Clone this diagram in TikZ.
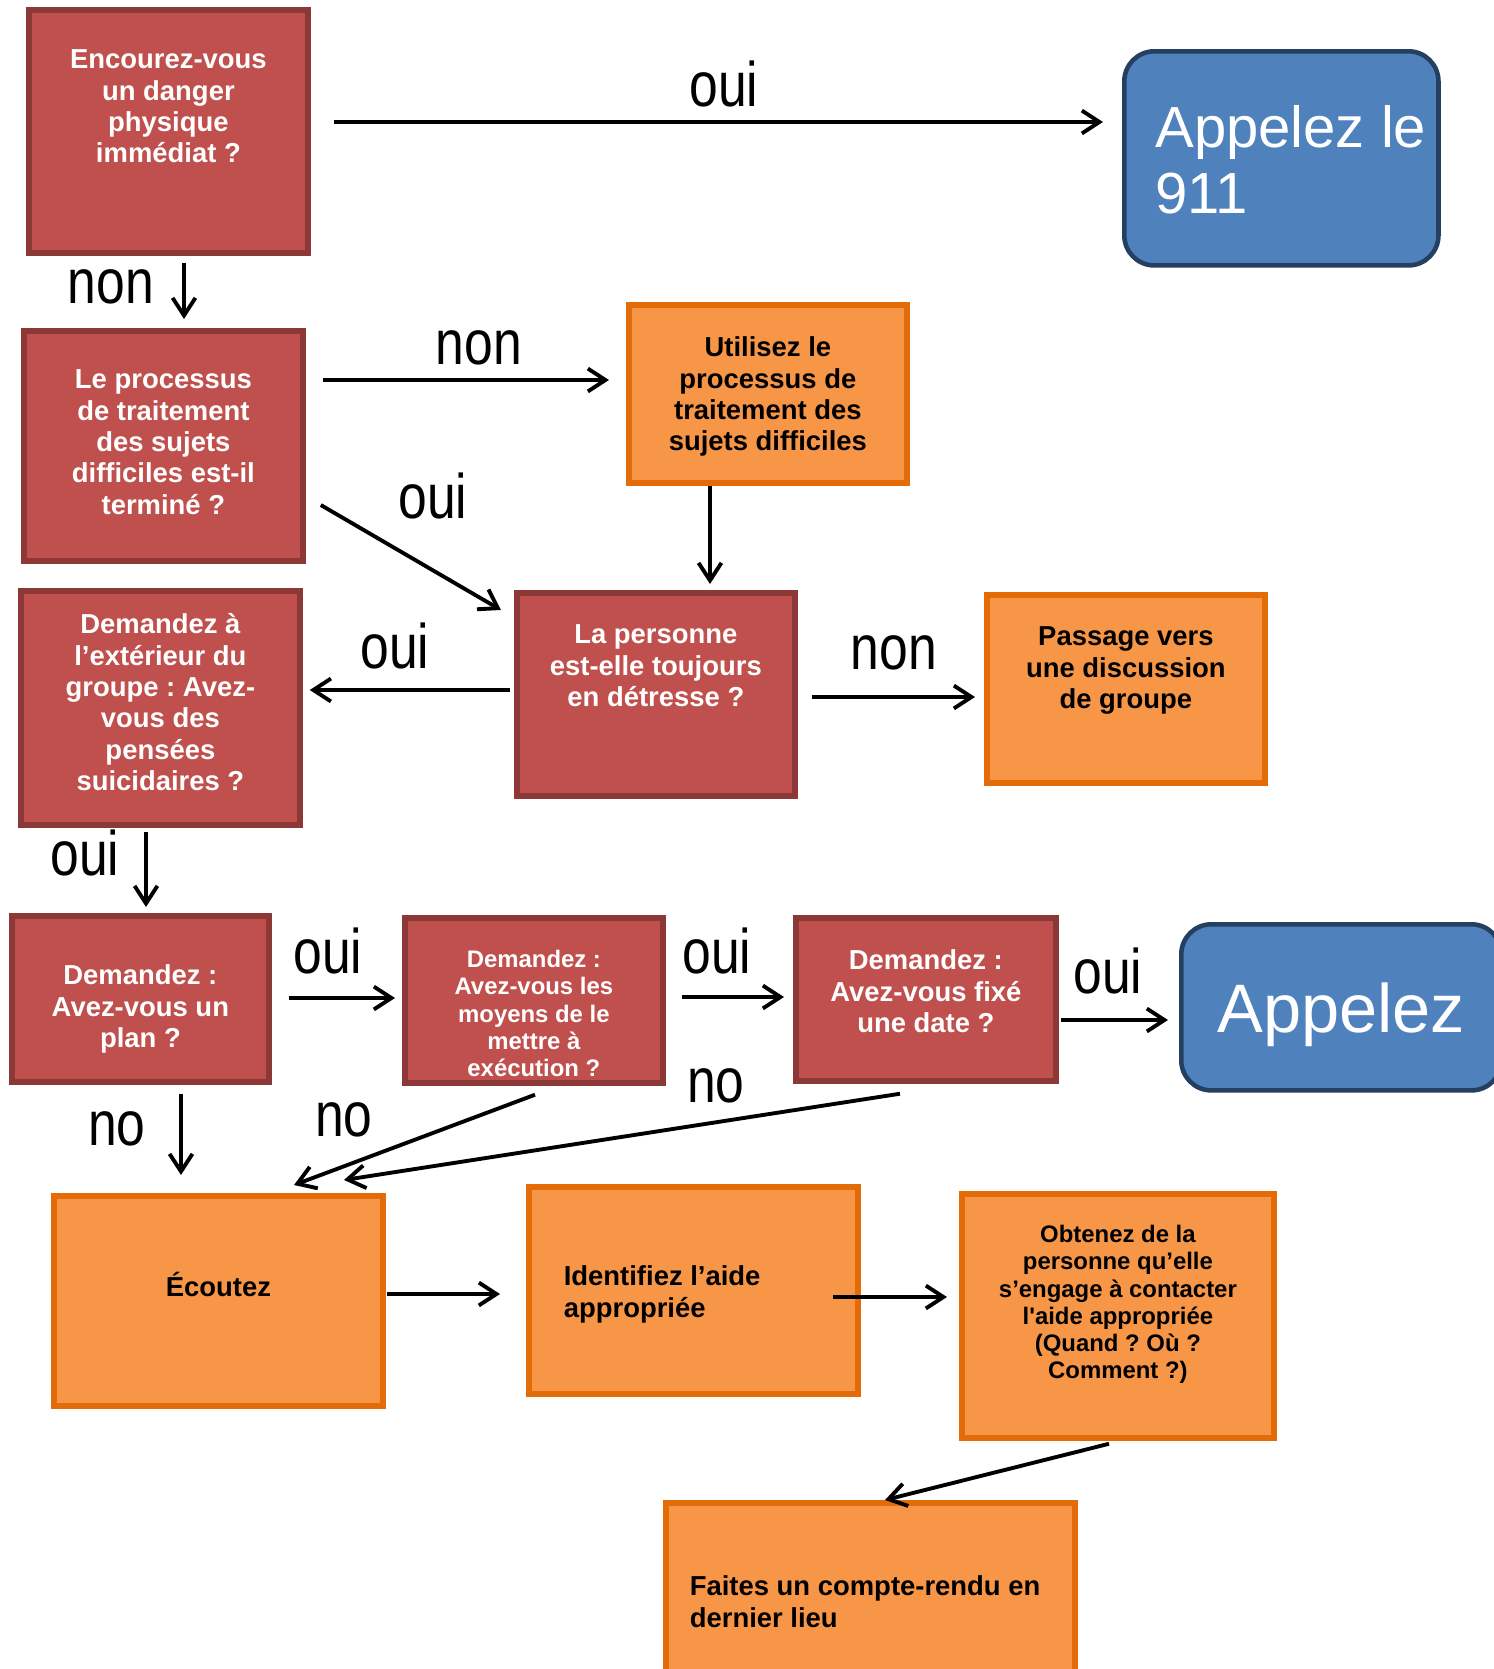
\documentclass[tikz,border=0pt]{standalone}
\usepackage{fontspec}
\setmainfont{Liberation Sans}[Ligatures=TeXOff]
\newfontfamily\labelFont[FakeStretch=0.82]{Liberation Sans}
\frenchspacing
\usetikzlibrary{arrows.meta,calc}
\definecolor{askFill}{HTML}{C0504D}
\definecolor{askLine}{HTML}{8C3836}
\definecolor{doFill}{HTML}{F79646}
\definecolor{doLine}{HTML}{E36C09}
\definecolor{callFill}{HTML}{4F81BD}
\definecolor{callLine}{HTML}{243F60}
\newcommand\boxLine{1.6pt}
\newcommand\arrowLine{1.1pt}
% box text: width, height, top to first baseline, lines
\newcommand\boxText[4]{\parbox[c][#2][t]{#1}{\centering\vspace*{\dimexpr#3-\ht\strutbox\relax}\strut#4}}
% same, left aligned: width, height, top to first baseline, left margin, lines
\newcommand\boxTextLeft[5]{\parbox[c][#2][t]{#1}{\raggedright\leftskip=#4\relax\vspace*{\dimexpr#3-\ht\strutbox\relax}\strut#5}}

\begin{document}
\begin{tikzpicture}[x=0.01cm, y=-0.01cm,
	ask/.style={draw=askLine, fill=askFill, line width=\boxLine, inner sep=0pt, anchor=north west,
		text=white, font=\bfseries\fontsize{7.8pt}{8.9pt}\selectfont},
	todo/.style={draw=doLine, fill=doFill, line width=\boxLine, inner sep=0pt, anchor=north west,
		text=black, font=\bfseries\fontsize{7.8pt}{8.9pt}\selectfont},
	call/.style={draw=callLine, fill=callFill, line width=1.3pt, rounded corners=0.3cm, inner sep=0pt,
		anchor=north west, text=white},
	small/.style={font=\bfseries\fontsize{6.8pt}{7.7pt}\selectfont},
	lbl/.style={font=\labelFont\fontsize{17.9pt}{20pt}\selectfont, anchor=base, inner sep=0pt},
	arr/.style={line width=\arrowLine, -{Straight Barb[length=5pt,width=6.5pt]}}]
	\useasboundingbox (0,0) rectangle (1494,1669);
	\clip (0,0) rectangle (1494,1669);
	
	% questions and actions
	\node[ask] (danger) at (26,7) {\boxText{2.79cm}{2.43cm}{0.59cm}{Encourez-vous\\un danger\\physique\\immédiat ?}};
	\node[call, font=\fontsize{16.5pt}{18.8pt}\selectfont] (call911) at (1122,49) {\boxTextLeft{3.14cm}{2.14cm}{0.96cm}{0.31cm}{Appelez le\\911}};
	\node[ask] (process) at (21,328) {\boxText{2.79cm}{2.30cm}{0.58cm}{Le processus\\de traitement\\des sujets\\difficiles est-il\\terminé ?}};
	\node[todo] (useProcess) at (626,302) {\boxText{2.78cm}{1.78cm}{0.52cm}{Utilisez le\\processus de\\traitement des\\sujets difficiles}};
	\node[ask] (distress) at (514,590) {\boxText{2.78cm}{2.03cm}{0.51cm}{La personne\\est-elle toujours\\en détresse ?}};
	\node[ask] (outside) at (18,588) {\boxText{2.79cm}{2.34cm}{0.43cm}{Demandez à\\l’extérieur du\\groupe : Avez-\\vous des\\pensées\\suicidaires ?}};
	\node[todo] (groupTalk) at (984,592) {\boxText{2.78cm}{1.88cm}{0.51cm}{Passage vers\\une discussion\\de groupe}};
	\node[ask] (plan) at (9,913) {\boxText{2.57cm}{1.66cm}{0.69cm}{Demandez :\\Avez-vous un\\plan ?}};
	\node[ask, small] (means) at (402,915) {\boxText{2.58cm}{1.65cm}{0.50cm}{Demandez :\\Avez-vous les\\moyens de le\\mettre à\\exécution ?}};
	\node[ask] (date) at (793,915) {\boxText{2.60cm}{1.63cm}{0.52cm}{Demandez :\\Avez-vous fixé\\une date ?}};
	\node[call, font=\fontsize{19.5pt}{22pt}\selectfont] (callNow) at (1179,922) {\boxText{3.20cm}{1.66cm}{1.08cm}{Appelez}};
	\node[todo] (listen) at (51,1193) {\boxText{3.29cm}{2.10cm}{0.98cm}{Écoutez}};
	\node[todo] (findHelp) at (526,1184) {\boxTextLeft{3.29cm}{2.07cm}{0.99cm}{0.35cm}{Identifiez l’aide\\appropriée}};
	\node[todo, small] (commit) at (959,1191) {\boxText{3.12cm}{2.44cm}{0.49cm}{Obtenez de la\\personne qu’elle\\s’engage à contacter\\l'aide appropriée\\(Quand ? Où ?\\Comment ?)}};
	\node[todo] (debrief) at (663,1500) {\boxTextLeft{4.09cm}{2.00cm}{0.93cm}{0.24cm}{Faites un compte-rendu en\\dernier lieu}};
	
	% answers
	\foreach \nm/\x/\y/\txt in {yesCall/724/106/oui, noProcess/111/303/non, noUse/479/364/non,
		yesDistress/433/518/oui, yesOutside/395/668/oui, noGroup/894/669/non, yesPlan/85/875/oui,
		yesMeans/328/973/oui, yesDate/717/973/oui, yesNow/1108/993/oui,
		noPlan/117/1145/no, noMeans/344/1136/no, noDate/716/1102/no}{
		\node[lbl] (\nm) at (\x,\y) {\txt};
	}
	
	% arrows
	\draw[arr] ($(danger.north east)+(23,115)$) -- ($(call911.north west)+(-19,73)$);
	\draw[arr] ($(danger.south west)+(158,7)$) -- ($(process.north west)+(163,-9)$);
	\draw[arr] ($(process.north east)+(17,52)$) -- ($(useProcess.north west)+(-17,78)$);
	\draw[arr] ($(process.north east)+(15,177)$) -- ($(distress.north west)+(-13,20)$);
	\draw[arr] ($(useProcess.south west)+(84,0)$) -- ($(distress.north west)+(196,-6)$);
	\draw[arr] ($(distress.north west)+(-4,100)$) -- ($(outside.north east)+(7,102)$);
	\draw[arr] ($(distress.north east)+(14,107)$) -- ($(groupTalk.north west)+(-9,105)$);
	\draw[arr] ($(outside.south west)+(128,4)$) -- ($(plan.north west)+(137,-6)$);
	\draw[arr] ($(plan.north east)+(17,85)$) -- ($(means.north west)+(-7,83)$);
	\draw[arr] ($(means.north east)+(16,82)$) -- ($(date.north west)+(-9,82)$);
	\draw[arr] ($(date.north east)+(2,105)$) -- ($(callNow.north west)+(-11,98)$);
	\draw[arr] ($(plan.south west)+(172,9)$) -- ($(listen.north west)+(130,-18)$);
	\draw[arr] ($(means.south west)+(133,9)$) -- ($(listen.north west)+(243,-8)$);
	\draw[arr] ($(date.south west)+(107,10)$) -- ($(listen.north west)+(293,-13)$);
	\draw[arr] ($(listen.north east)+(1,101)$) -- ($(findHelp.north west)+(-26,110)$);
	\draw[arr] ($(findHelp.north east)+(-28,113)$) -- ($(commit.north west)+(-12,106)$);
	\draw[arr] ($(commit.south west)+(150,3)$) -- ($(debrief.north west)+(222,0)$);
\end{tikzpicture}
\end{document}
